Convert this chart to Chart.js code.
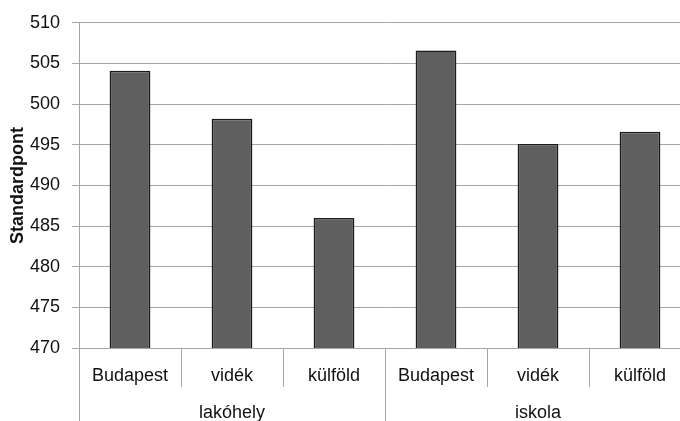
<!DOCTYPE html>
<html>
<head>
<meta charset="utf-8">
<script src="https://cdn.jsdelivr.net/npm/chart.js@4/dist/chart.umd.min.js"></script>
<style>
  html, body { margin: 0; padding: 0; background: #fff; overflow: hidden; }
  #wrap { position: relative; width: 700px; height: 424px; }
</style>
</head>
<body>
<div id="wrap"><canvas id="scoreChart"></canvas></div>
<script>
// chart data
const innerLabels = ['Budapest', 'vidék', 'külföld', 'Budapest', 'vidék', 'külföld'];
const groupLabels = ['lakóhely', 'iskola'];
const scores = [504.1, 498.2, 486.0, 506.6, 495.1, 496.6];
const yMin = 470;
const yMax = 510;
const yStep = 5;
const yTitle = 'Standardpont';

// styles
const fontFamily = '"Liberation Sans", Arial, sans-serif';
const gridColor = '#a6a6a6';
const textColor = '#111111';
const innerSeparatorLength = 39;

// draws the category separators of the two-level x axis
var separatorPlugin = {
  id: 'separators',
  afterDraw: function(chart) {
    var ctx = chart.ctx;
    var x = chart.scales.x;
    var x2 = chart.scales.x2;
    var drawLine = function(px, y1, y2) {
      var p = Math.round(px) + 0.5;
      ctx.beginPath();
      ctx.moveTo(p, y1);
      ctx.lineTo(p, y2);
      ctx.stroke();
    };
    ctx.save();
    ctx.strokeStyle = gridColor;
    ctx.lineWidth = 1;
    var n = innerLabels.length;
    for (var i = 0; i <= n; i++) {
      drawLine(x.left + i * x.width / n, x.top, x.top + innerSeparatorLength);
    }
    var g = groupLabels.length;
    for (var j = 0; j <= g; j++) {
      drawLine(x2.left + j * x2.width / g, x.top, chart.height);
    }
    ctx.restore();
  }
};

new Chart(document.getElementById('scoreChart').getContext('2d'), {
  type: 'bar',
  data: {
    labels: innerLabels,
    datasets: [{
      data: scores,
      backgroundColor: '#5f5f5f',
      borderColor: '#1a1a1a',
      borderWidth: 1.5,
      borderSkipped: false,
      categoryPercentage: 0.4,
      barPercentage: 1
    }]
  },
  options: {
    responsive: true,
    maintainAspectRatio: false,
    animation: false,
    layout: { padding: { left: 7, right: 9, top: 22, bottom: 0 } },
    plugins: {
      legend: { display: false },
      tooltip: { enabled: false }
    },
    scales: {
      x: {
        position: 'bottom',
        offset: true,
        afterFit: function(scale) { scale.height = 38; },
        grid: { display: false, drawTicks: false },
        border: { display: true, color: gridColor },
        ticks: { padding: 17, color: textColor, font: { family: fontFamily, size: 18 }, maxRotation: 0, autoSkip: false }
      },
      x2: {
        type: 'category',
        labels: groupLabels,
        position: 'bottom',
        offset: true,
        afterFit: function(scale) { scale.height = 38; },
        grid: { display: false, drawTicks: false },
        border: { display: false },
        ticks: { padding: 16, color: textColor, font: { family: fontFamily, size: 18 }, maxRotation: 0, autoSkip: false }
      },
      y: {
        min: yMin,
        max: yMax,
        afterFit: function(scale) { scale.width = 72; },
        ticks: { stepSize: yStep, padding: 12, color: textColor, font: { family: fontFamily, size: 18 } },
        grid: { color: gridColor, tickLength: 7 },
        border: { display: true, color: gridColor },
        title: {
          display: true,
          text: yTitle,
          color: textColor,
          padding: { top: 0, bottom: 1 },
          font: { family: fontFamily, size: 18, weight: 'bold' }
        }
      }
    }
  },
  plugins: [separatorPlugin]
});
</script>
</body>
</html>
